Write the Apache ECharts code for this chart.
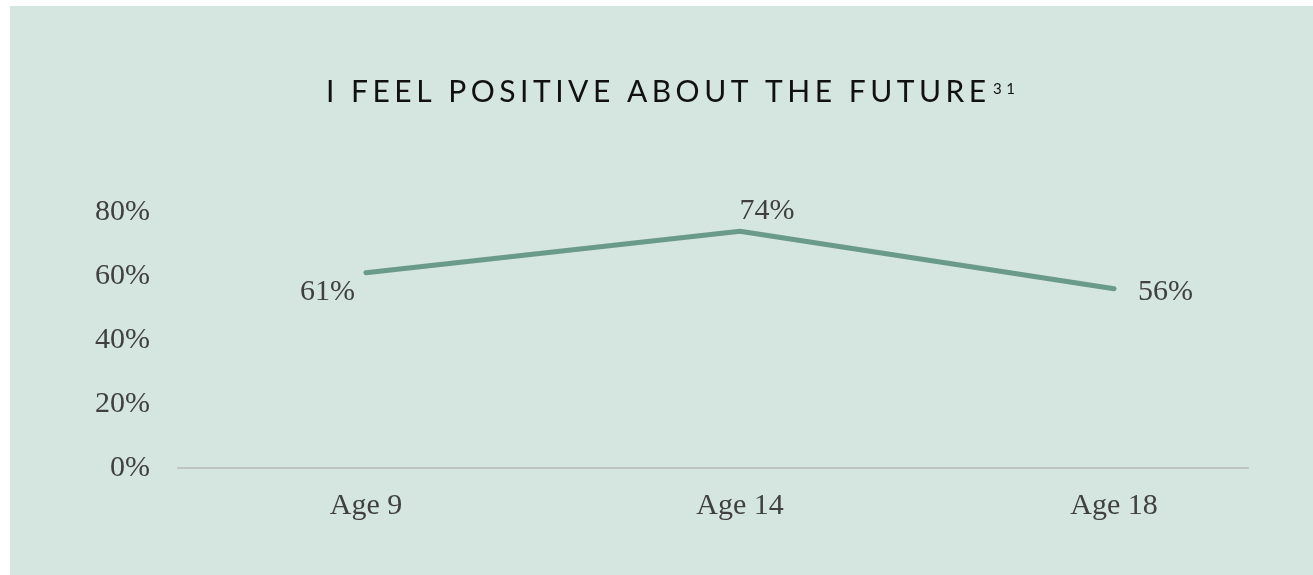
<!DOCTYPE html>
<html>
<head>
<meta charset="utf-8">
<script src="https://cdn.jsdelivr.net/npm/echarts@6/dist/echarts.min.js"></script>
<style>
html,body{margin:0;padding:0;background:#ffffff;}
#chart{position:absolute;left:10px;top:6px;width:1303px;height:569px;background:#d5e5df;}
</style>
</head>
<body>
<div id="chart"></div>
<script>
const categories = ['Age 9', 'Age 14', 'Age 18'];
const values = [61, 74, 56];
const yTicks = [0, 20, 40, 60, 80];
const titleText = 'I FEEL POSITIVE ABOUT THE FUTURE';
const titleNote = '31';

const serif = "'Liberation Serif', 'DejaVu Serif', serif";
const sans = "Lato, 'Open Sans', sans-serif";
const textColor = '#404040';
const labelStyles = [
  { position: 'left', distance: 11, offset: [0, 19] },
  { position: 'top', distance: 5, offset: [27, 0] },
  { position: 'right', distance: 24, offset: [0, 3] }
];

// widen tracking of the title text (canvas letterSpacing)
(function () {
  const proto = CanvasRenderingContext2D.prototype;
  const orig = proto.fillText;
  proto.fillText = function (t, x, y, m) {
    if (/Lato/.test(this.font) && /\b30px/.test(this.font) && 'letterSpacing' in this) {
      const prev = this.letterSpacing;
      this.letterSpacing = '4.5px';
      orig.call(this, t, x, y, m);
      this.letterSpacing = prev;
    } else {
      orig.call(this, t, x, y, m);
    }
  };
})();

const chart = echarts.init(document.getElementById('chart'), null, { renderer: 'canvas' });
chart.setOption({
  backgroundColor: '#d5e5df',
  animation: false,
  title: [
    {
      text: titleText,
      left: 311,
      top: 66,
      textStyle: { fontFamily: sans, fontSize: 30, fontWeight: 'normal', color: '#111111' }
    },
    {
      text: titleNote,
      left: 978,
      top: 71,
      textStyle: { fontFamily: sans, fontSize: 15, fontWeight: 'normal', color: '#111111' }
    }
  ],
  grid: [
    { left: 168, right: 65, top: 206, bottom: 107, containLabel: false },
    { left: 169, right: 12, top: 206, bottom: 107, containLabel: false }
  ],
  xAxis: [
    {
      gridIndex: 0, type: 'category', data: categories,
      axisLine: { show: true, lineStyle: { color: '#bfc3c1', width: 2 } },
      axisTick: { show: false }, axisLabel: { show: false }
    },
    {
      gridIndex: 1, type: 'category', data: categories, boundaryGap: true,
      axisLine: { show: false }, axisTick: { show: false },
      axisLabel: { color: textColor, fontFamily: serif, fontSize: 30, margin: 23 }
    }
  ],
  yAxis: [
    {
      gridIndex: 0, type: 'value', min: yTicks[0], max: yTicks[yTicks.length - 1], interval: yTicks[1] - yTicks[0],
      axisLine: { show: false }, axisTick: { show: false }, splitLine: { show: false },
      axisLabel: { color: textColor, fontFamily: serif, fontSize: 30, margin: 28, padding: [4, 0, 0, 0], formatter: v => v + '%' }
    },
    {
      gridIndex: 1, type: 'value', min: yTicks[0], max: yTicks[yTicks.length - 1], interval: yTicks[1] - yTicks[0],
      show: false
    }
  ],
  series: [{
    type: 'line',
    xAxisIndex: 1, yAxisIndex: 1,
    data: values.map((v, i) => ({ value: v, label: labelStyles[i] })),
    showSymbol: true,
    symbol: 'circle',
    symbolSize: 0.1,
    itemStyle: { color: 'rgba(0,0,0,0)' },
    lineStyle: { color: '#6a9a89', width: 5, cap: 'round', join: 'round' },
    label: {
      show: true, color: textColor, fontFamily: serif, fontSize: 30,
      formatter: p => p.value + '%'
    }
  }]
});
</script>
</body>
</html>
